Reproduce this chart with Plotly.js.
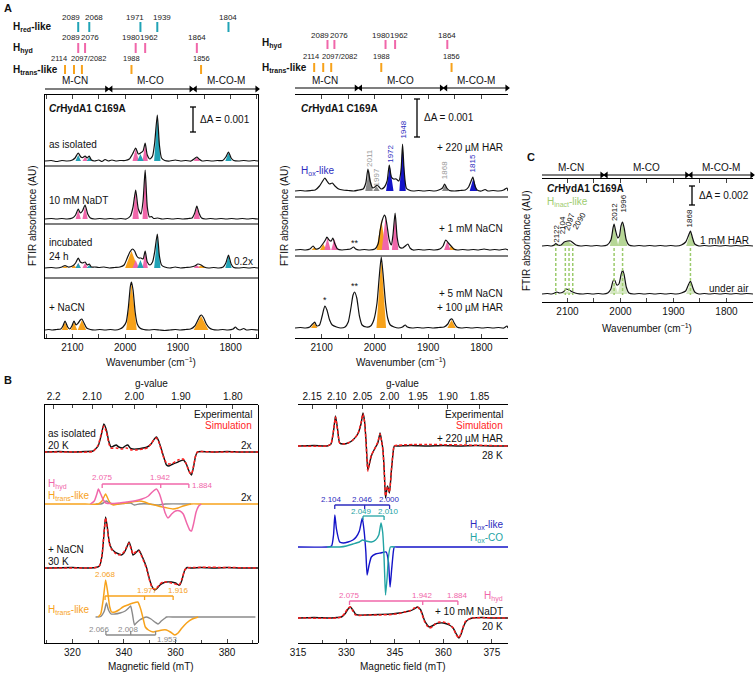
<!DOCTYPE html>
<html><head><meta charset="utf-8">
<script src="https://cdn.plot.ly/plotly-3.0.1.min.js"></script>
<style>html,body{margin:0;padding:0;background:#fff}#chart{width:756px;height:674px}</style>
</head><body><div id="chart"></div>
<script>
// ================= DATA =================
// Header band positions (cm-1)
const hredLike = [2089, 2068, 1971, 1939, 1804];
const hhyd = [2089, 2076, 1980, 1962, 1864];
const htransLike = [2114, 2097, 2082, 1988, 1856];
const htransLabels = ['2114', '2097/2082', '1988', '1856'];
const regionNames = ['M-CN', 'M-CO', 'M-CO-M'];
const regionEdges = [2031, 1871];

// Panel A left: [wavenumber, absorbance (relative units)]
const isoSpec = [[2152,0],[2140,0.5],[2130,-0.5],[2120,0.5],[2110,0],[2100,1],[2095,3],[2089,8],[2084,4],[2080,3.5],[2076,5],[2072,3],[2068,5],[2064,1],[2058,0],[2050,1],[2044,-0.5],[2038,1.5],[2032,0],[2025,1],[2018,0],[2010,0.5],[2000,0.5],[1992,2],[1986,7],[1980,13],[1975,7],[1971,8],[1966,10],[1962,18],[1958,6],[1953,2],[1948,5],[1944,18],[1939,46],[1935,16],[1931,3],[1925,0.5],[1915,0],[1905,1],[1895,0],[1885,0.5],[1875,0],[1868,2.5],[1864,4],[1860,2],[1854,0],[1845,0.5],[1835,0],[1825,0.5],[1815,0.5],[1809,4],[1804,9],[1799,3],[1794,0.5],[1785,0],[1775,0.5],[1765,0],[1755,0.5],[1748,0]];
const isoTeal = [[2089,6,5],[2068,4,5],[1971,7,6],[1939,45,6],[1804,8,6]];
const isoPink = [[2089,5,5],[2076,4,5],[1980,12,6],[1962,17,5],[1864,3.5,6]];

const ndtSpec = [[2152,0],[2140,0.5],[2130,0],[2120,0.5],[2110,0],[2100,1],[2094,4],[2089,10],[2085,6],[2081,8],[2076,14],[2071,5],[2066,1],[2058,0],[2048,0.5],[2038,0],[2028,0.5],[2018,0],[2008,0.5],[1998,0],[1990,3],[1985,12],[1980,29],[1975,10],[1970,5],[1966,18],[1962,49],[1958,12],[1954,2],[1950,2.5],[1946,0.5],[1938,1],[1930,0],[1920,0.5],[1910,0],[1900,0.5],[1890,0],[1880,0.5],[1873,1],[1868,6],[1864,13],[1860,6],[1855,1],[1848,0],[1838,0.5],[1828,0],[1818,0.5],[1808,0],[1798,0.5],[1788,0],[1778,0.5],[1768,0],[1758,0.5],[1748,0]];
const ndtPink = [[2089,9,5],[2076,13,5],[1980,28,6],[1962,48,5],[1864,12,6]];

const incSpec = [[2152,0],[2140,0.5],[2130,0],[2120,1],[2114,2.5],[2108,1],[2100,2],[2094,5],[2089,10],[2085,6],[2081,5],[2076,6],[2072,3],[2068,4],[2064,1],[2058,1],[2050,0.5],[2040,1],[2030,0],[2020,0.5],[2010,1],[2002,3],[1996,10],[1991,16],[1986,19],[1982,17],[1978,12],[1974,10],[1970,10],[1966,9],[1962,17],[1958,6],[1953,3],[1948,6],[1944,16],[1939,34],[1935,12],[1931,3],[1925,1],[1915,0],[1905,1],[1895,0],[1885,0.5],[1875,1],[1868,2],[1862,4],[1856,3],[1850,1],[1842,0],[1832,0.5],[1822,0],[1814,1],[1809,5],[1804,13],[1799,4],[1794,0.5],[1785,0],[1775,0.5],[1765,0],[1755,0.5],[1748,0]];
const incOrange = [[2114,2,5],[2097,3,5],[1988,17,12],[1856,2.5,10]];
const incPink = [[2089,5,5],[2076,5,5],[1980,8,6],[1962,16,5],[1864,3,6]];
const incTeal = [[2089,5,5],[2068,3,5],[1971,8,6],[1939,33,6],[1804,12,6]];

const cnSpec = [[2152,0],[2145,0.5],[2138,0],[2130,0.5],[2122,1],[2118,4],[2114,9],[2109,3],[2105,1],[2101,4],[2097,9],[2093,5],[2089,7],[2085,10],[2082,11],[2078,7],[2073,2],[2066,0.5],[2058,0],[2048,0.5],[2038,0],[2028,0.5],[2018,0],[2010,1],[2004,3],[1998,8],[1994,22],[1990,44],[1988,48],[1985,40],[1981,18],[1977,6],[1972,2],[1965,0.5],[1955,0],[1945,0.5],[1935,0],[1925,-0.5],[1915,0],[1905,0.5],[1895,0],[1885,0.5],[1876,1],[1868,4],[1862,10],[1858,14],[1855,15],[1851,12],[1846,6],[1840,2],[1834,0.5],[1825,0],[1815,0.5],[1805,0],[1795,1],[1791,3],[1787,1],[1782,0],[1775,1.5],[1770,0],[1760,0.5],[1748,0]];
const cnOrange = [[2114,8,6],[2097,8,6],[2082,10,8],[1988,47,10],[1856,14,14]];

// Panel A middle
const harSpec = [[2150,0],[2140,0.5],[2130,0],[2120,0.5],[2112,1],[2104,5],[2098,10],[2094,13],[2090,10],[2085,7],[2080,8],[2075,5],[2068,2],[2060,1],[2050,0.5],[2040,0],[2030,1],[2022,2],[2017,8],[2013,22],[2009,10],[2004,3],[2000,4],[1996,6],[1992,4],[1988,2],[1982,4],[1977,10],[1973,26],[1969,14],[1965,12],[1960,12],[1955,10],[1951,20],[1948,47],[1945,20],[1941,3],[1936,1],[1928,0],[1918,0.5],[1908,0],[1898,0.5],[1888,0],[1880,1],[1873,3],[1869,7],[1865,3],[1860,0.5],[1850,0],[1840,0.5],[1830,1],[1824,4],[1820,9],[1816,14],[1812,5],[1808,1],[1800,0],[1793,1.5],[1788,0],[1778,0.5],[1768,0],[1758,1],[1752,3],[1750,0]];
const harGray = [[2011,21,7],[1997,5,6],[1868,6,6]];
const harBlue = [[1972,25,7],[1948,46,6],[1815,13,7]];
const harBandLabels = [2011, 1997, 1972, 1948, 1868, 1815];
const harBandSpecies = ['other', 'other', 'Hox', 'Hox', 'other', 'Hox'];

const cn1Spec = [[2150,0],[2140,0.5],[2130,0],[2122,1],[2116,4],[2111,1],[2104,2],[2098,6],[2093,10],[2090,13],[2086,10],[2082,9],[2079,12],[2075,6],[2070,1],[2062,0],[2052,0.5],[2046,1],[2040,3],[2036,1],[2030,0],[2020,0.5],[2010,0],[2000,1],[1994,6],[1990,20],[1986,30],[1982,35],[1980,33],[1977,24],[1973,10],[1969,5],[1966,15],[1962,37],[1958,12],[1954,3],[1948,2],[1943,4],[1938,6],[1934,2],[1928,0],[1918,0.5],[1908,0],[1898,0.5],[1888,0],[1878,1],[1872,4],[1867,10],[1862,7],[1857,4],[1852,1],[1845,0],[1835,0.5],[1825,0],[1815,0.5],[1805,0],[1795,1],[1785,0],[1775,0.5],[1765,0],[1755,1],[1750,0]];
const cn1Orange = [[2114,3,5],[2097,6,6],[1988,30,9],[1856,4,8]];
const cn1Pink = [[2089,12,6],[2076,11,6],[1980,33,7],[1962,36,6],[1864,9,6]];

const cn5Spec = [[2150,0],[2140,0.5],[2130,0],[2122,1],[2117,4],[2113,6],[2109,2],[2104,3],[2099,12],[2094,22],[2090,18],[2085,8],[2080,3],[2072,1],[2064,0],[2056,1],[2050,6],[2045,20],[2041,33],[2038,36],[2034,30],[2029,12],[2024,3],[2016,1],[2008,2],[2002,8],[1996,25],[1992,50],[1988,71],[1984,50],[1980,25],[1976,10],[1971,3],[1964,1],[1956,0],[1948,1],[1943,3],[1939,1],[1930,0],[1920,0.5],[1910,0],[1900,0.5],[1890,0],[1880,0.5],[1870,1],[1863,4],[1859,8],[1855,9],[1851,5],[1846,1],[1838,0],[1828,0.5],[1818,0],[1808,0.5],[1798,0],[1788,0.5],[1778,0],[1768,0.5],[1758,0],[1752,2],[1750,0]];
const cn5Orange = [[2114,5,6],[1988,70,9],[1856,8,8]];

// Panel C
const cHarSpec = [[2148,0],[2138,0.5],[2130,0],[2125,1],[2122,2.5],[2118,1],[2112,1],[2106,4],[2100,5],[2094,5],[2089,3],[2084,1],[2075,0],[2065,0.5],[2055,0],[2045,0.5],[2035,0],[2025,1],[2018,6],[2014,18],[2012,22],[2009,15],[2005,8],[2002,10],[1999,20],[1996,24],[1993,18],[1989,6],[1984,1],[1975,0],[1965,0.5],[1955,0],[1945,0.5],[1935,0],[1925,0.5],[1915,0],[1905,0.5],[1895,0],[1885,1],[1877,4],[1872,10],[1868,15],[1864,8],[1860,2],[1852,0],[1842,0.5],[1832,0],[1822,0.5],[1812,0],[1802,0.5],[1792,0],[1782,0.5],[1772,0],[1762,0.5],[1750,0]];
const cHarGreen = [[2122,2,6],[2100,5,14],[2012,20,8],[1996,23,9],[1868,14,8]];
const cAirSpec = [[2148,0],[2138,0.5],[2130,0],[2124,1],[2120,2],[2115,1],[2108,2],[2102,5],[2097,4],[2090,2],[2082,0.5],[2072,0],[2062,0.5],[2052,0],[2042,0.5],[2032,0],[2024,1],[2018,5],[2014,13],[2011,14],[2007,9],[2003,10],[1999,19],[1996,24],[1993,19],[1989,7],[1984,1],[1975,0],[1965,0.5],[1955,0],[1945,0.5],[1935,0],[1925,0.5],[1915,0],[1905,0.5],[1895,0],[1885,1],[1877,3],[1872,9],[1868,13],[1864,7],[1860,2],[1852,0],[1842,0.5],[1832,0],[1822,0.5],[1812,0],[1802,0.5],[1792,0],[1782,0.5],[1772,0],[1762,0.5],[1750,0]];
const cAirGreen = [[2100,3,12],[2012,12,8],[1996,22,9],[1868,12,8]];
const cInactBands = [2122, 2104, 2097, 2090, 2012, 1996, 1868];

// Panel B left: [field (mT), signal (relative units)]
const isoEpr = [[309,0],[315,0.5],[320,0],[325,0.5],[328,1],[330,6],[331.3,18],[332.2,28],[333.2,22],[334.2,10],[335,5],[336,6],[337,7],[338,5],[339.5,4],[340.5,6],[341.5,7],[342.4,4],[343.4,3],[345,3],[347.4,4],[349,5],[350.5,8],[351.8,13],[352.6,15],[353.5,11],[354.5,3],[355.2,-3],[356.5,-13],[357.5,-14],[359,-12],[361,-10],[363,-8],[364.2,-12],[364.9,-17],[365.6,-21],[366.2,-23],[367,-15],[367.8,-4],[368.5,0],[370,0.5],[375,0],[380,0.5],[385,0],[392,0]];
const isoSim = [[309,0],[320,0],[328,0.5],[330,7],[331.3,19],[332.2,26],[333.2,20],[334.2,8],[335,4],[337,4],[339,3],[341,4],[343,2],[345,2],[347.4,3],[349,4],[350.5,8],[351.8,13],[352.6,14],[353.5,10],[354.5,2],[355.2,-4],[356.5,-11],[357.5,-12],[359,-11],[361,-8],[363,-7],[364.2,-12],[364.9,-17],[365.6,-21],[366.2,-22],[367,-14],[367.8,-4],[368.5,0],[375,0],[392,0]];
const hydComp = [[327,0],[328.5,3],[329.5,10],[330.1,15],[331,10],[332,4],[333,1],[335,0.5],[338,1],[341,2],[344,3],[347,5],[349.5,8],[351,12],[352.6,15],[353.8,10],[355,0],[356,-9],[357.1,-14],[358.5,-10],[360,-7],[361.7,-7],[363,-10],[364.5,-20],[365.5,-26],[366.2,-27],[367,-20],[368,-8],[369,-2],[370,0]];
const transComp1 = [[309,0],[325,0],[330,0],[331.5,3],[332.9,10],[334,4],[335,0],[336,-1],[338,0],[341,1],[344,2.5],[346,3],[348,2],[350,0],[352,-1],[354,-2.5],[356,-3.5],[359,-5],[361,-4],[363,-2],[366,0],[370,0],[392,0]];
const grayComp1 = [[329,0],[331,0],[332,1],[333.2,3],[334.3,1],[336,0],[338,0],[340,0.5],[342.6,1],[344,-1],[346,0],[350,0],[353,-1],[356,0],[366,0]];
const cnEpr = [[309,0],[320,0.5],[325,0],[329,0.5],[330.5,2],[331.5,12],[332.3,35],[332.9,51],[333.6,40],[334.3,26],[335.1,20],[336.5,16],[338,14],[339,13],[340,15],[341,20],[342,26],[342.8,20],[343.5,13],[344.5,15],[345.8,18],[347,12],[348.7,1],[350,-12],[351,-19],[352,-22],[353,-20],[354,-17],[355.2,-15],[356.5,-14],[358.4,-14],[360,-15],[361.2,-17],[361.7,-17],[362.5,-12],[363.6,-2],[364.5,0.5],[366,0],[370,0.5],[375,0],[380,0.5],[385,0],[392,0]];
const cnSim = [[309,0],[325,0],[329,0.5],[330.5,2],[331.5,13],[332.3,36],[332.9,50],[333.6,39],[334.3,25],[335.1,19],[336.5,15],[338,13],[339,14],[340,16],[341,21],[342,25],[342.8,19],[343.5,14],[344.5,16],[345.8,17],[347,11],[348.7,0],[350,-13],[351,-20],[352,-21],[353,-19],[354,-16],[355.2,-14],[356.5,-14],[358.4,-15],[360,-16],[361.2,-17],[361.7,-16],[362.5,-11],[363.6,-2],[364.5,0],[392,0]];
const transComp2 = [[330,0],[331,3],[332,18],[332.9,37],[333.7,25],[334.5,10],[335.2,5],[336.5,5],[338,7],[339.6,10],[341.5,12],[343.5,14],[345.4,15],[346.5,8],[347.5,-2],[348.3,-10],[349.5,-13],[351.3,-15],[353,-14],[355,-13],[356.5,-13],[358,-15],[359.7,-18],[361,-16],[362.5,-11],[364.3,-6],[366.5,-2],[368.8,0]];
const grayComp2 = [[329,0],[331,0.5],[332.4,6],[333.2,14],[334,7],[335,3],[336.5,3],[338.5,4],[340.5,6],[341.8,9],[342.6,11],[343.3,3],[344.1,-8],[344.8,-6],[346.1,-3],[347.5,-1],[348.7,0],[350.5,-2],[352,-5],[353.2,-7],[354.5,-4],[356,-1],[356.5,0],[360,0],[391,0]];

// Panel B right
const harEpr = [[315,0],[320,0.5],[324,0],[325.2,2],[326,15],[326.6,30],[327.2,18],[327.9,3],[329,2],[330.5,3],[332,6],[333.5,12],[334.5,22],[335.1,33],[335.6,25],[336.1,3],[336.6,-24],[337.1,-18],[337.7,-10],[338.7,-3],[339.7,3],[340.4,13],[340.9,5],[341.3,-4],[341.7,-25],[342.1,-52],[342.7,-40],[343.3,-47],[343.9,-25],[344.5,-5],[344.8,0],[346,0],[350,0.5],[355,0],[360,0.5],[365,0],[370,0.5],[375,0],[380,0]];
const harSim = [[315,0],[324,0],[325.2,2],[326,16],[326.6,29],[327.2,17],[327.9,3],[329,2],[330.5,3],[332,6],[333.5,12],[334.5,23],[335.1,32],[335.6,24],[336.1,2],[336.6,-25],[337.1,-17],[337.7,-9],[338.7,-3],[339.7,4],[340.4,12],[340.9,4],[341.3,-5],[341.7,-26],[342.1,-50],[342.7,-41],[343.3,-46],[343.9,-24],[344.5,-4],[344.8,0],[380,0]];
const hoxComp = [[315,0],[324,0],[325.4,1],[326,12],[326.4,32],[326.9,18],[327.9,5],[329,4],[330.5,5],[332,7],[333,10],[334,16],[334.9,29],[335.5,15],[336,-5],[336.4,-28],[337,-18],[337.7,-10],[339,-7],[340.5,-6],[342.3,-5],[343,-15],[343.5,-40],[344,-22],[344.5,-5],[344.8,0],[346,0],[380,0]];
const hoxCOComp = [[324,0],[327.9,0],[330,1],[332,3],[334,5],[335,7],[336,6],[337.7,5],[339,7],[340,12],[340.7,24],[341.2,15],[341.5,0],[341.8,-25],[342.1,-48],[342.6,-30],[343,-10],[343.6,0],[345,0]];
const ndtEpr = [[315,0],[320,0.5],[325,0],[327,0.5],[328.4,1],[329.5,4],[330.5,9],[331.2,11],[332,8],[332.8,4],[333.6,3],[336,3],[340,3.5],[344,4],[346.4,5],[348,6],[349.5,7],[351,9],[352,11],[353,8],[354.1,-2],[355,-7],[355.6,-9],[356.5,-8],[357.5,-6],[358.7,-5],[360,-5],[361.8,-7],[363,-10],[364,-16],[364.8,-20],[365.5,-16],[366.2,-9],[366.9,-4],[368,-1],[369,0],[372,0.5],[375,0],[380,0]];
const ndtSim = [[315,0],[327,0],[328.4,1],[329.5,5],[330.5,10],[331.2,11],[332,7],[332.8,3],[333.6,2.5],[336,3],[340,3],[344,3.5],[346.4,4.5],[348,6],[349.5,7],[351,10],[352,11],[353,7],[354.1,-3],[355,-8],[355.6,-10],[356.5,-9],[357.5,-6],[358.7,-4],[360,-4],[361.8,-6],[363,-10],[364,-17],[364.8,-20],[365.5,-15],[366.2,-8],[366.9,-3],[368,-1],[369,0],[380,0]];

// g-value annotations
const hydG = [2.075, 1.942, 1.884];
const transG = [2.068, 1.977, 1.916];
const grayG = [2.066, 2.008, 1.953];
const hoxG = [2.104, 2.046, 2.000];
const hoxCOG = [2.049, 2.010];
const gTicksLeft = [2.2, 2.10, 2.00, 1.90, 1.80];
const gTickTextLeft = ['2.2', '2.10', '2.00', '1.90', '1.80'];
const gMinorLeft = [2.15, 2.05, 1.95, 1.85];
const gTicksRight = [2.15, 2.10, 2.05, 2.00, 1.95, 1.90, 1.85];
const gTickTextRight = ['2.15', '2.10', '2.05', '2.00', '1.95', '1.90', '1.85'];
const hvLeft = 688;   // g * B (mT) for left EPR spectra
const hvRight = 686.7; // g * B (mT) for right EPR spectra

// ================= STYLE / LAYOUT =================
const W = 756, H = 674;
const FONT = 'Liberation Sans, Arial, sans-serif';
const C = {teal:'#20A3B6', pink:'#F067AA', orange:'#F7A21B', blue:'#1414C8', gray:'#8A8A8A',
  green:'#A9CF84', greenTxt:'#9DCB6E', red:'#FF1E1E', tealCO:'#22A4A4', hoxTxt:'#2B2BBE'};
const py = v => 1 - v / H;
const px = v => v / W;
const ydom = (t, b) => [1 - b / H, 1 - t / H];
const xdom = (l, r) => [l / W, r / W];

const traces = [];
const shapes = [];
const annotations = [];

function lineTrace(pts, xa, ya, color, width, dash, smooth) {
  return {type:'scatter', mode:'lines', x:pts.map(p=>p[0]), y:pts.map(p=>p[1]), xaxis:xa, yaxis:ya,
    line:{color:color, width:width||1.2, dash:dash||'solid', shape:'spline', smoothing:smooth===undefined?0.6:smooth},
    hoverinfo:'skip', showlegend:false};
}
function peakFill(comps, xa, ya, color, opacity) {
  const x = [], y = [];
  comps.forEach(c => { x.push(c[0]+c[2], c[0], c[0]-c[2], null); y.push(0, c[1], 0, null); });
  return {type:'scatter', mode:'lines', x:x, y:y, xaxis:xa, yaxis:ya, fill:'toself', fillcolor:color,
    opacity:opacity||1, line:{width:0, color:color}, hoverinfo:'skip', showlegend:false};
}
function txt(x, y, text, o) {
  o = o || {};
  annotations.push({xref:'paper', yref:'paper', x:px(x), y:py(y), text:text, showarrow:false,
    xanchor:o.xa||'left', yanchor:'middle', textangle:o.angle||0, borderpad:0,
    font:{family:FONT, size:o.size||10, color:o.color||'#111'}});
}
function dataTxt(xa, xv, y, text, o) {
  o = o || {};
  annotations.push({xref:xa, yref:'paper', x:xv, y:py(y), text:text, showarrow:false,
    xanchor:o.xa||'center', yanchor:'middle', xshift:o.dx||0, textangle:o.angle||0, borderpad:0,
    font:{family:FONT, size:o.size||8, color:o.color||'#222'}});
}
function hline(x0, x1, y, w, color) {
  shapes.push({type:'line', xref:'paper', yref:'paper', x0:px(x0), x1:px(x1), y0:py(y), y1:py(y), line:{color:color||'#000', width:w||1.2}});
}
function vline(x, y0, y1, w, color) {
  shapes.push({type:'line', xref:'paper', yref:'paper', x0:px(x), x1:px(x), y0:py(y0), y1:py(y1), line:{color:color||'#000', width:w||1.2}});
}
function bandTicks(xa, bands, color, top, bot) {
  bands.forEach(b => shapes.push({type:'line', xref:xa, yref:'paper', x0:b, x1:b, y0:py(bot), y1:py(top), line:{color:color, width:2}}));
}
// double-headed region arrows drawn as a line trace with triangle end markers (y in page pixels)
function regionArrows(xa, ya, lo, hi, yArrow, yText) {
  const edges = [lo, regionEdges[0], regionEdges[1], hi];
  const x = [], y = [], sym = [];
  regionNames.forEach((n, i) => {
    const a = edges[i] - (i > 0 ? 4 : -2), b = edges[i+1] + (i < 2 ? 4 : 2);
    x.push(a, b, null); y.push(yArrow, yArrow, null); sym.push('triangle-left', 'triangle-right', 'circle');
    dataTxt(xa, (a + b) / 2, yText, n, {size:10, color:'#111'});
  });
  traces.push({type:'scatter', mode:'lines+markers', x:x, y:y, xaxis:xa, yaxis:ya, cliponaxis:false,
    line:{color:'#000', width:1.2}, marker:{symbol:sym, size:6, color:'#000'}, hoverinfo:'skip', showlegend:false});
}
function scaleBar(x, y0, y1, label) {
  vline(x, y0, y1, 1.3); hline(x-3, x+3, y0, 1.3); hline(x-3, x+3, y1, 1.3);
  txt(x + 6, (y0 + y1) / 2, label, {size:10});
}
function bracket(xa, gs, k, y, color, dir, labels) {
  const f = gs.map(g => k / g);
  shapes.push({type:'line', xref:xa, yref:'paper', x0:f[0], x1:f[f.length-1], y0:py(y), y1:py(y), line:{color:color, width:1.3}});
  f.forEach(v => shapes.push({type:'line', xref:xa, yref:'paper', x0:v, x1:v, y0:py(y), y1:py(y + 4*dir), line:{color:color, width:1.3}}));
  gs.forEach((g, i) => dataTxt(xa, f[i], labels[i][0], g.toFixed(3), {color:color, dx:labels[i][1], size:8}));
}

// ---------- axis helpers ----------
function frameY(t, b) {
  return {domain:ydom(t, b), range:[0,1], showline:true, mirror:true, linecolor:'#000', linewidth:1.3,
    ticks:'', showticklabels:false, showgrid:false, zeroline:false, fixedrange:true};
}
function subY(frame, anchor, t, b, base) {
  return {overlaying:frame, anchor:anchor, range:[base - b, base - t], visible:false, showgrid:false, zeroline:false};
}
function pageY(anchor) {
  return {domain:[0, 1], range:[H, 0], anchor:anchor, visible:false, showgrid:false, zeroline:false};
}
function ftirX(l, r, range, anchor) {
  return {domain:xdom(l, r), range:range, anchor:anchor, showline:true, mirror:'ticks', linecolor:'#000', linewidth:1.3,
    ticks:'inside', ticklen:4, tickwidth:1, tick0:0, dtick:100, minor:{tick0:0, dtick:50, ticks:'inside', ticklen:4, tickwidth:1},
    tickfont:{family:FONT, size:10, color:'#111'}, showgrid:false, zeroline:false};
}

// panel geometry (page pixels)
const cTop = 179, cBot = 302;
const bTop = 405, bBot = 643;

const layout = {
  width:W, height:H, margin:{l:0, r:0, t:0, b:0}, paper_bgcolor:'#fff', plot_bgcolor:'rgba(0,0,0,0)',
  showlegend:false, font:{family:FONT, size:10, color:'#111'},
  // ---- A left ----
  xaxis: ftirX(45, 258, [2152, 1748], 'y'),
  yaxis: frameY(95, 338),
  yaxis2: subY('y', 'x', 95, 338, 161),
  yaxis3: subY('y', 'x', 95, 338, 219),
  yaxis4: subY('y', 'x', 95, 338, 268),
  yaxis5: subY('y', 'x', 95, 338, 330),
  // ---- A middle ----
  xaxis2: ftirX(295, 508, [2150, 1750], 'y6'),
  yaxis6: frameY(95, 338),
  yaxis7: subY('y6', 'x2', 95, 338, 191),
  yaxis8: subY('y6', 'x2', 95, 338, 250),
  yaxis9: subY('y6', 'x2', 95, 338, 328),
  // ---- C ----
  xaxis3: ftirX(542, 753, [2148, 1750], 'y10'),
  yaxis10: frameY(cTop, cBot),
  yaxis11: subY('y10', 'x3', cTop, cBot, 246),
  yaxis12: subY('y10', 'x3', cTop, cBot, 294),
  // ---- header helper axes (page-pixel y) ----
  yaxis22: pageY('x'),
  yaxis23: pageY('x2'),
  yaxis24: pageY('x3'),
  // ---- B left ----
  xaxis4: {domain:xdom(44, 258), range:[309, 392], anchor:'y13', showline:true, linecolor:'#000', linewidth:1.3,
    ticks:'inside', ticklen:4, tick0:0, dtick:20, minor:{tick0:0, dtick:10, ticks:'inside', ticklen:3},
    tickfont:{family:FONT, size:10}, showgrid:false, zeroline:false},
  xaxis5: {overlaying:'x4', side:'top', anchor:'y13', range:[309, 392], showline:true, linecolor:'#000', linewidth:1.3,
    tickmode:'array', tickvals:gTicksLeft.map(g => hvLeft / g), ticktext:gTickTextLeft,
    minor:{tickmode:'array', tickvals:gMinorLeft.map(g => hvLeft / g), ticks:'inside', ticklen:3},
    ticks:'inside', ticklen:4, tickfont:{family:FONT, size:10}, showgrid:false, zeroline:false},
  yaxis13: frameY(bTop, bBot),
  yaxis14: subY('y13', 'x4', bTop, bBot, 452),
  yaxis15: subY('y13', 'x4', bTop, bBot, 504),
  yaxis16: subY('y13', 'x4', bTop, bBot, 568),
  yaxis17: subY('y13', 'x4', bTop, bBot, 617),
  // ---- B right ----
  xaxis6: {domain:xdom(298, 508), range:[315, 380], anchor:'y18', showline:true, linecolor:'#000', linewidth:1.3,
    ticks:'inside', ticklen:4, tick0:0, dtick:15, minor:{tick0:0, dtick:7.5, ticks:'inside', ticklen:3},
    tickfont:{family:FONT, size:10}, showgrid:false, zeroline:false},
  xaxis7: {overlaying:'x6', side:'top', anchor:'y18', range:[315, 380], showline:true, linecolor:'#000', linewidth:1.3,
    tickmode:'array', tickvals:gTicksRight.map(g => hvRight / g), ticktext:gTickTextRight,
    ticks:'inside', ticklen:4, tickfont:{family:FONT, size:10}, showgrid:false, zeroline:false},
  yaxis18: frameY(bTop, bBot),
  yaxis19: subY('y18', 'x6', bTop, bBot, 446),
  yaxis20: subY('y18', 'x6', bTop, bBot, 547),
  yaxis21: subY('y18', 'x6', bTop, bBot, 618)
};

// ================= TRACES =================
traces.push({type:'scatter', x:[], y:[], xaxis:'x', yaxis:'y'});
traces.push({type:'scatter', x:[], y:[], xaxis:'x2', yaxis:'y6'});
traces.push({type:'scatter', x:[], y:[], xaxis:'x3', yaxis:'y10'});
traces.push({type:'scatter', x:[], y:[], xaxis:'x4', yaxis:'y13'});
traces.push({type:'scatter', x:[], y:[], xaxis:'x5', yaxis:'y13'});
traces.push({type:'scatter', x:[], y:[], xaxis:'x6', yaxis:'y18'});
traces.push({type:'scatter', x:[], y:[], xaxis:'x7', yaxis:'y18'});

// A left
traces.push(peakFill(isoPink, 'x', 'y2', C.pink));
traces.push(peakFill(isoTeal, 'x', 'y2', C.teal));
traces.push(lineTrace(isoSpec, 'x', 'y2', '#111', 1.2));
traces.push(peakFill(ndtPink, 'x', 'y3', C.pink));
traces.push(lineTrace(ndtSpec, 'x', 'y3', '#111', 1.2));
traces.push(peakFill(incOrange, 'x', 'y4', C.orange));
traces.push(peakFill(incPink, 'x', 'y4', C.pink));
traces.push(peakFill(incTeal, 'x', 'y4', C.teal));
traces.push(lineTrace(incSpec, 'x', 'y4', '#111', 1.2));
traces.push(peakFill(cnOrange, 'x', 'y5', C.orange));
traces.push(lineTrace(cnSpec, 'x', 'y5', '#111', 1.2));
// A middle
traces.push(peakFill(harGray, 'x2', 'y7', C.gray));
traces.push(peakFill(harBlue, 'x2', 'y7', C.blue));
traces.push(lineTrace(harSpec, 'x2', 'y7', '#111', 1.2));
traces.push(peakFill(cn1Orange, 'x2', 'y8', C.orange));
traces.push(peakFill(cn1Pink, 'x2', 'y8', C.pink));
traces.push(lineTrace(cn1Spec, 'x2', 'y8', '#111', 1.2));
traces.push(peakFill(cn5Orange, 'x2', 'y9', C.orange));
traces.push(lineTrace(cn5Spec, 'x2', 'y9', '#111', 1.2));
// C
traces.push(peakFill(cHarGreen, 'x3', 'y11', C.green, 0.85));
traces.push(lineTrace(cHarSpec, 'x3', 'y11', '#111', 1.2));
traces.push(peakFill(cAirGreen, 'x3', 'y12', C.green, 0.5));
traces.push(lineTrace(cAirSpec, 'x3', 'y12', '#111', 1.2));
// B left
traces.push(lineTrace(isoEpr, 'x4', 'y14', '#111', 1.4, 'solid', 0.5));
traces.push(lineTrace(isoSim, 'x4', 'y14', C.red, 1.5, '3px,2px', 0.5));
traces.push(lineTrace(grayComp1, 'x4', 'y15', C.gray, 1.4, 'solid', 0.5));
traces.push(lineTrace(transComp1, 'x4', 'y15', C.orange, 1.4, 'solid', 0.5));
traces.push(lineTrace(hydComp, 'x4', 'y15', C.pink, 1.5, 'solid', 0.5));
traces.push(lineTrace(cnEpr, 'x4', 'y16', '#111', 1.4, 'solid', 0.5));
traces.push(lineTrace(cnSim, 'x4', 'y16', C.red, 1.5, '3px,2px', 0.5));
traces.push(lineTrace(grayComp2, 'x4', 'y17', C.gray, 1.4, 'solid', 0.5));
traces.push(lineTrace(transComp2, 'x4', 'y17', C.orange, 1.5, 'solid', 0.5));
// B right
traces.push(lineTrace(harEpr, 'x6', 'y19', '#111', 1.4, 'solid', 0.5));
traces.push(lineTrace(harSim, 'x6', 'y19', C.red, 1.5, '3px,2px', 0.5));
traces.push(lineTrace(hoxComp, 'x6', 'y20', C.blue, 1.4, 'solid', 0.5));
traces.push(lineTrace(hoxCOComp, 'x6', 'y20', C.tealCO, 1.4, 'solid', 0.5));
traces.push(lineTrace(ndtEpr, 'x6', 'y21', '#111', 1.4, 'solid', 0.5));
traces.push(lineTrace(ndtSim, 'x6', 'y21', C.red, 1.5, '3px,2px', 0.5));

// ================= DECORATION =================
txt(3, 8, '<b>A</b>', {size:11});
txt(3, 380, '<b>B</b>', {size:11});
txt(526, 157, '<b>C</b>', {size:11});

// ---- A left header ----
txt(12, 27, '<b>H<sub>red</sub>-like</b>', {size:10});
txt(12, 48, '<b>H<sub>hyd</sub></b>', {size:10});
txt(12, 70, '<b>H<sub>trans</sub>-like</b>', {size:10});
bandTicks('x', hredLike, C.teal, 22, 32);
const hredDx = [-7, 5, -5, 5, 0];
hredLike.forEach((b, i) => dataTxt('x', b, 17, String(b), {dx:hredDx[i]}));
bandTicks('x', hhyd, C.pink, 43, 53);
const hhydDx = [-7, 5, -5, 4, 0];
hhyd.forEach((b, i) => dataTxt('x', b, 38, String(b), {dx:hhydDx[i]}));
bandTicks('x', htransLike, C.orange, 65, 74);
const htransAt = [htransLike[0], (htransLike[1] + htransLike[2]) / 2, htransLike[3], htransLike[4]];
const htransDx = [-6, 11, 0, 0];
htransLabels.forEach((t, i) => dataTxt('x', htransAt[i], 59, t, {dx:htransDx[i], size:7.5}));
regionArrows('x', 'y22', 2152, 1748, 89, 81);

// ---- A middle header ----
txt(261, 43, '<b>H<sub>hyd</sub></b>', {size:10});
txt(261, 68, '<b>H<sub>trans</sub>-like</b>', {size:10});
bandTicks('x2', hhyd, C.pink, 40, 49);
hhyd.forEach((b, i) => dataTxt('x2', b, 36, String(b), {dx:hhydDx[i]}));
bandTicks('x2', htransLike, C.orange, 63, 72);
const htransDxMid = [-3, 12, 0, 0];
htransLabels.forEach((t, i) => dataTxt('x2', htransAt[i], 57, t, {dx:htransDxMid[i], size:7.5}));
regionArrows('x2', 'y23', 2150, 1750, 88, 80);

// ---- C header ----
regionArrows('x3', 'y24', 2148, 1750, cTop - 4, cTop - 11);

// ---- frame separators ----
hline(45, 258, 166, 1.2); hline(45, 258, 224, 1.2); hline(45, 258, 278, 1.2);
hline(295, 508, 197, 1.2); hline(295, 508, 256, 1.2);

// ---- A left labels ----
txt(48, 109, '<b><i>Cr</i>HydA1 C169A</b>', {size:10});
scaleBar(193, 107, 132, 'ΔA = 0.001');
txt(48, 144, 'as isolated', {size:10});
txt(48, 200, '10 mM NaDT', {size:10});
txt(48, 243, 'incubated', {size:10});
txt(48, 256, '24 h', {size:10});
txt(254, 261, '0.2x', {size:10, xa:'right'});
txt(48, 307, '+ NaCN', {size:10});
txt(33, 216, 'FTIR absorbance (AU)', {size:10, angle:-90, xa:'center'});
txt(151, 362, 'Wavenumber (cm<sup>−1</sup>)', {size:10, xa:'center'});

// ---- A middle labels ----
txt(300, 109, '<b><i>Cr</i>HydA1 C169A</b>', {size:10});
scaleBar(417, 99, 137, 'ΔA = 0.001');
txt(504, 147, '+ 220 µM HAR', {size:10, xa:'right'});
txt(300, 171, 'H<sub>ox</sub>-like', {size:10, color:C.hoxTxt});
const harLabelY = [158, 177, 154, 130, 170, 163];
harBandLabels.forEach((b, i) => dataTxt('x2', b, harLabelY[i], String(b),
  {angle:-90, size:8, color:harBandSpecies[i] === 'Hox' ? C.hoxTxt : '#9a9a9a'}));
txt(504, 228, '+ 1 mM NaCN', {size:10, xa:'right'});
dataTxt('x2', 2037, 243, '**', {size:9, color:'#111'});
txt(504, 293, '+ 5 mM NaCN', {size:10, xa:'right'});
txt(504, 307, '+ 100 µM HAR', {size:10, xa:'right'});
dataTxt('x2', 2094, 300, '*', {size:9, color:'#111'});
dataTxt('x2', 2038, 286, '**', {size:9, color:'#111'});
txt(285, 216, 'FTIR absorbance (AU)', {size:10, angle:-90, xa:'center'});
txt(401, 362, 'Wavenumber (cm<sup>−1</sup>)', {size:10, xa:'center'});

// ---- C labels ----
txt(546, cTop + 10, '<b><i>Cr</i>HydA1 C169A</b>', {size:10});
txt(546, cTop + 23, 'H<sub>inact</sub>-like', {size:10, color:C.greenTxt});
scaleBar(692, cTop + 7, cTop + 26, 'ΔA = 0.002');
txt(750, 241, '1 mM HAR', {size:10, xa:'right'});
txt(750, 288, 'under air', {size:10, xa:'right'});
cInactBands.forEach(b => shapes.push({type:'line', xref:'x3', yref:'paper', x0:b, x1:b, y0:py(248), y1:py(295),
  line:{color:'#9CCB6C', width:1.5, dash:'3px,2px'}}));
const cLabelY = [234, 225, 222, 221, 212, 204, 218];
const cLabelAngle = [-90, -90, -72, -60, -90, -90, -90];
const cLabelDx = [0, -3, 1, 6, 0, 0, 0];
cInactBands.forEach((b, i) => dataTxt('x3', b, cLabelY[i], String(b), {angle:cLabelAngle[i], dx:cLabelDx[i], size:8, color:'#111'}));
txt(527, 241, 'FTIR absorbance (AU)', {size:10, angle:-90, xa:'center'});
txt(647, 328, 'Wavenumber (cm<sup>−1</sup>)', {size:10, xa:'center'});

// ---- B left labels ----
txt(151, 383, 'g-value', {size:10, xa:'center'});
txt(151, 666, 'Magnetic field (mT)', {size:10, xa:'center'});
txt(253, 414, 'Experimental', {size:10, xa:'right'});
txt(253, 426, 'Simulation', {size:10, xa:'right', color:C.red});
txt(47, 433, 'as isolated', {size:10});
txt(47, 445, '20 K', {size:10});
txt(253, 445, '2x', {size:10, xa:'right'});
txt(47, 484, 'H<sub>hyd</sub>', {size:10, color:C.pink});
txt(47, 496, 'H<sub>trans</sub>-like', {size:10, color:C.orange});
txt(253, 497, '2x', {size:10, xa:'right'});
txt(47, 549, '+ NaCN', {size:10});
txt(47, 561, '30 K', {size:10});
txt(47, 610, 'H<sub>trans</sub>-like', {size:10, color:C.orange});
bracket('x4', hydG, hvLeft, 484, C.pink, 1, [[478, 0], [478, 0], [485, 14]]);
bracket('x4', transG, hvLeft, 596, C.orange, 1, [[574, 0], [590, 3], [590, 5]]);
bracket('x4', grayG, hvLeft, 635, C.gray, -1, [[629, -6], [629, -2], [639, 12]]);

// ---- B right labels ----
txt(403, 383, 'g-value', {size:10, xa:'center'});
txt(403, 666, 'Magnetic field (mT)', {size:10, xa:'center'});
txt(504, 414, 'Experimental', {size:10, xa:'right'});
txt(504, 426, 'Simulation', {size:10, xa:'right', color:C.red});
txt(504, 438, '+ 220 µM HAR', {size:10, xa:'right'});
txt(504, 455, '28 K', {size:10, xa:'right'});
txt(504, 525, 'H<sub>ox</sub>-like', {size:10, xa:'right', color:C.hoxTxt});
txt(504, 538, 'H<sub>ox</sub>-CO', {size:10, xa:'right', color:C.tealCO});
txt(504, 596, 'H<sub>hyd</sub>', {size:10, xa:'right', color:C.pink});
txt(504, 611, '+ 10 mM NaDT', {size:10, xa:'right'});
txt(504, 626, '20 K', {size:10, xa:'right'});
bracket('x6', hoxG, hvRight, 505, C.hoxTxt, 1, [[499, -3], [499, -2], [499, 0]]);
bracket('x6', hoxCOG, hvRight, 516, C.tealCO, 1, [[511, -2], [511, 4]]);
bracket('x6', hydG, hvRight, 601, C.pink, 1, [[595, 0], [595, 0], [595, 0]]);

layout.shapes = shapes;
layout.annotations = annotations;
Plotly.newPlot('chart', traces, layout, {staticPlot:true, displayModeBar:false});
</script>
</body></html>
